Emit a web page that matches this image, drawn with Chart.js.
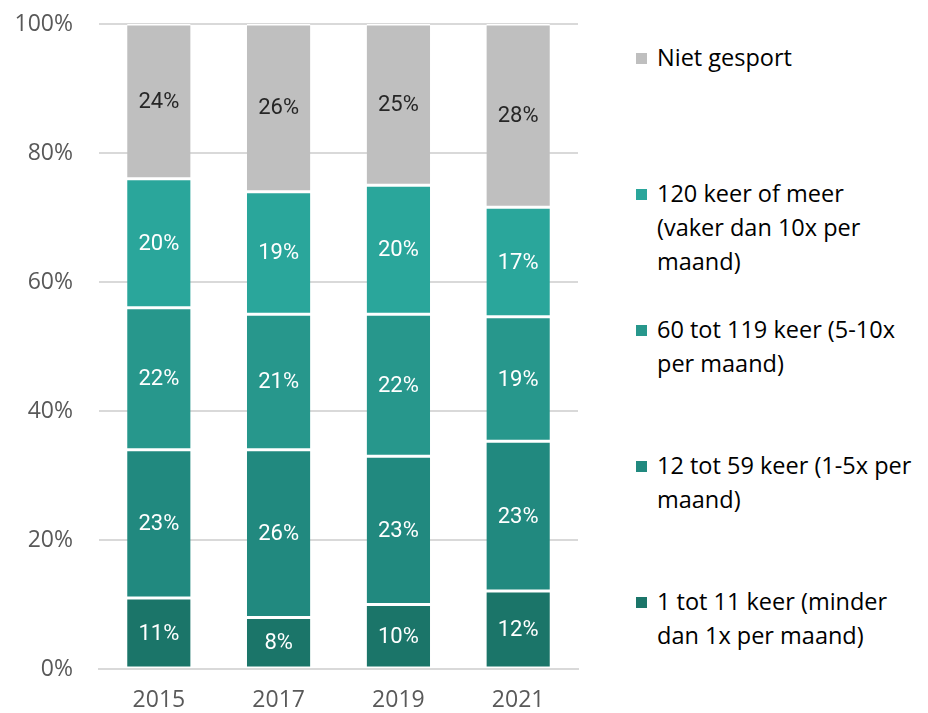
<!DOCTYPE html>
<html>
<head>
<meta charset="utf-8">
<script src="https://cdn.jsdelivr.net/npm/chart.js@4"></script>
<style>
  html, body { margin: 0; padding: 0; background: #fff; }
  #wrap { position: relative; width: 928px; height: 713px; }
  #chartBox { position: absolute; left: 0; top: 0; width: 580px; height: 713px; }
  #legend { position: absolute; left: 0; top: 0; font-family: "Open Sans", sans-serif; font-size: 23.5px; color: #000; }
  .lg-item { position: absolute; left: 636px; line-height: 34px; white-space: nowrap; }
  .lg-box { position: absolute; left: 0; top: 13px; width: 11px; height: 11px; }
  .lg-text { position: absolute; left: 21px; top: 0; }
</style>
</head>
<body>
<div id="wrap">
  <div id="chartBox"><canvas id="chart"></canvas></div>
  <div id="legend"></div>
</div>
<script>
// jaren
const years = ['2015', '2017', '2019', '2021'];

// reeksen (van onder naar boven), waarden in %
const seriesNames = [
    ['1 tot 11 keer (minder', 'dan 1x per maand)'],
    ['12 tot 59 keer (1-5x per', 'maand)'],
    ['60 tot 119 keer (5-10x', 'per maand)'],
    ['120 keer of meer', '(vaker dan 10x per', 'maand)'],
    ['Niet gesport']
];
const lowData = [11, 8, 10, 12.1];
const monthlyData = [23, 26, 23, 23.2];
const weeklyData = [22, 21, 22, 19.3];
const oftenData = [20, 19, 20, 17];
const noneData = [24, 26, 25, 28.4];

const yTicks = [0, 20, 40, 60, 80, 100];

const colors = ['#1b7569', '#21897f', '#27978c', '#2aa69b', '#bfbfbf'];
const labelColors = ['#ffffff', '#ffffff', '#ffffff', '#ffffff', '#262626'];

const allData = [lowData, monthlyData, weeklyData, oftenData, noneData];

const datasets = allData.map((d, i) => ({
    label: seriesNames[i].join(' '),
    data: d,
    backgroundColor: colors[i],
    borderColor: '#ffffff',
    borderWidth: { top: 1.5, bottom: 1.5, left: 0, right: 0 },
    borderSkipped: false,
    categoryPercentage: 1,
    barPercentage: 0.53
}));

// percentages in de balken
const barLabels = {
    id: 'barLabels',
    afterDatasetsDraw(chart) {
        const ctx = chart.ctx;
        ctx.save();
        ctx.font = '22px Roboto, sans-serif';
        ctx.textAlign = 'center';
        ctx.textBaseline = 'middle';
        chart.data.datasets.forEach((ds, i) => {
            const meta = chart.getDatasetMeta(i);
            ctx.fillStyle = labelColors[i];
            meta.data.forEach((bar, j) => {
                const y = (bar.y + bar.base) / 2;
                ctx.fillText(Math.round(ds.data[j]) + '%', bar.x, y + 1);
            });
        });
        ctx.restore();
    }
};

new Chart(document.getElementById('chart'), {
    type: 'bar',
    data: { labels: years, datasets: datasets },
    options: {
        responsive: true,
        maintainAspectRatio: false,
        animation: false,
        layout: { padding: { top: 24, right: 2, left: 16, bottom: 0 } },
        plugins: { legend: { display: false }, tooltip: { enabled: false } },
        scales: {
            x: {
                stacked: true,
                grid: { display: false, drawTicks: false },
                border: { color: '#d9d9d9', width: 2 },
                ticks: { color: '#595959', font: { family: '"Open Sans", sans-serif', size: 23 }, padding: 18 },
                afterFit: scale => { scale.height = 44; }
            },
            y: {
                stacked: true,
                min: 0,
                max: 100,
                afterBuildTicks: axis => { axis.ticks = yTicks.map(v => ({ value: v })); },
                grid: { color: '#d9d9d9', lineWidth: 2, drawTicks: false },
                border: { display: false },
                ticks: {
                    color: '#595959',
                    font: { family: '"Open Sans", sans-serif', size: 23 },
                    padding: 26,
                    callback: v => v + '%'
                },
                afterFit: scale => {
                    scale.width = 83;
                    scale.paddingTop = 0;
                    scale.paddingBottom = 0;
                }
            }
        }
    },
    plugins: [barLabels]
});

// legenda rechts (bovenste reeks eerst)
const legend = document.getElementById('legend');
for (let k = 0; k < seriesNames.length; k++) {
    const i = seriesNames.length - 1 - k;
    const item = document.createElement('div');
    item.className = 'lg-item';
    item.style.top = (40 + k * 136) + 'px';
    const box = document.createElement('div');
    box.className = 'lg-box';
    box.style.background = colors[i];
    const txt = document.createElement('div');
    txt.className = 'lg-text';
    txt.innerHTML = seriesNames[i].join('<br>');
    item.appendChild(box);
    item.appendChild(txt);
    legend.appendChild(item);
}
</script>
</body>
</html>
